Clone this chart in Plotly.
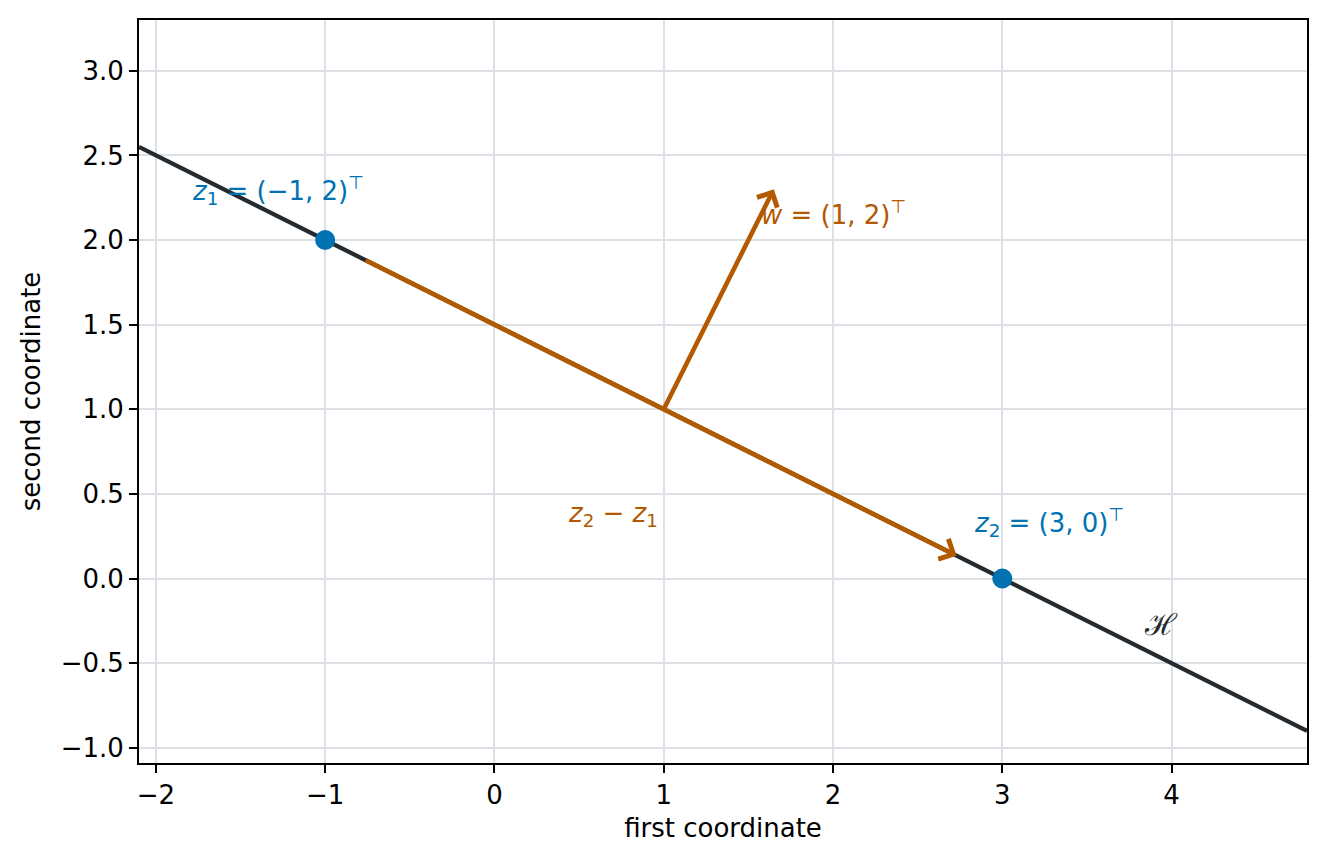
import plotly.graph_objects as go
import numpy as np

# data
z1 = np.array([-1.0, 2.0])
z2 = np.array([3.0, 0.0])
w = np.array([1.0, 2.0])
b = 3.0                      # hyperplane  w . x = b
base = np.array([1.0, 1.0])  # where w is drawn from
x_line = np.array([-2.1, 4.8])

BLUE = "#0072B2"
ORANGE = "#B35900"
DARK = "#232a30"
GRID = "#dde1e6"
FONT = "DejaVu Sans"
FS = 26

y_line = (b - w[0] * x_line) / w[1]

# arrow z2 - z1, shortened at both ends like matplotlib's shrink
d = z2 - z1
tail = z1 + 0.0575 * d
head = z1 + 0.9325 * d
w_tip = base + 0.65 * w

fig = go.Figure()

fig.add_trace(go.Scatter(x=x_line, y=y_line, mode="lines",
                         line=dict(color=DARK, width=4.3),
                         showlegend=False, hoverinfo="skip"))

fig.add_trace(go.Scatter(x=[z1[0], z2[0]], y=[z1[1], z2[1]], mode="markers",
                         marker=dict(color=BLUE, size=20),
                         showlegend=False))

arrows = [
    (head, tail),
    (w_tip, base),
]
for h, t in arrows:
    fig.add_annotation(x=h[0], y=h[1], ax=t[0], ay=t[1],
                       xref="x", yref="y", axref="x", ayref="y",
                       showarrow=True, arrowhead=4, arrowsize=0.95,
                       arrowwidth=4.6, arrowcolor=ORANGE, standoff=0,
                       text="")

labels = [
    (-1.8, 2.29, "<i>z</i><sub>1</sub> = (−1, 2)<sup>⊤</sup>", BLUE),
    (1.56, 2.16, "<i>w</i> = (1, 2)<sup>⊤</sup>", ORANGE),
    (0.42, 0.38, "<i>z</i><sub>2</sub> − <i>z</i><sub>1</sub>", ORANGE),
    (2.82, 0.33, "<i>z</i><sub>2</sub> = (3, 0)<sup>⊤</sup>", BLUE),
]
for lx, ly, txt, col in labels:
    fig.add_annotation(x=lx, y=ly, xref="x", yref="y", text=txt,
                       showarrow=False, xanchor="left", yanchor="middle",
                       font=dict(family=FONT, size=FS, color=col))

fig.add_annotation(x=3.94, y=-0.27, xref="x", yref="y", text="ℋ",
                   showarrow=False, xanchor="center", yanchor="middle",
                   font=dict(family="DejaVu Serif", size=30, color=DARK))

axis_common = dict(showgrid=True, gridcolor=GRID, gridwidth=2,
                   zeroline=False, showline=True, linecolor="black",
                   linewidth=2, mirror=True, ticks="outside",
                   ticklen=8, tickwidth=2, tickcolor="black",
                   tickfont=dict(family=FONT, size=FS, color="black"))

fig.update_layout(
    width=1311, height=849,
    margin=dict(l=131, r=10, t=10, b=94),
    plot_bgcolor="white", paper_bgcolor="white",
    xaxis=dict(range=[-2.1, 4.8], dtick=1,
               title=dict(text="first coordinate", standoff=10,
                          font=dict(family=FONT, size=FS, color="black")),
               **axis_common),
    yaxis=dict(range=[-1.09, 3.3], dtick=0.5, tickformat=".1f",
               title=dict(text="second coordinate", standoff=13,
                          font=dict(family=FONT, size=FS, color="black")),
               **axis_common),
)

fig.write_html("out.html")
